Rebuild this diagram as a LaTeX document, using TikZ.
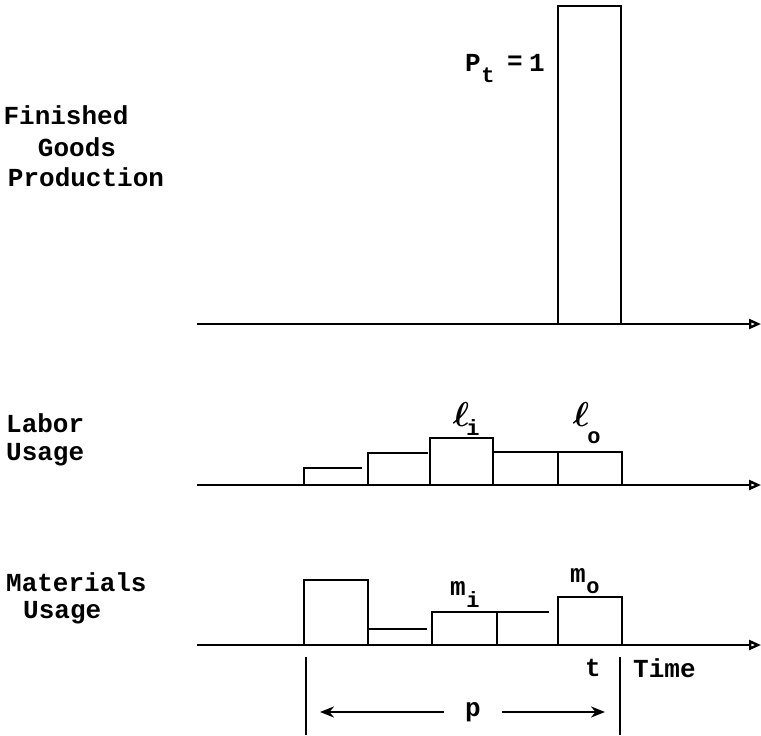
\documentclass[tikz,border=0pt]{standalone}
\usepackage{amsmath}
\usepackage{fontspec}
\setmainfont{Liberation Mono}
\usetikzlibrary{arrows.meta}

\begin{document}
\begin{tikzpicture}[x=0.5pt,y=-0.5pt,inner sep=0pt,line width=1.2pt,
  lbl/.style={font=\fontsize{13}{15}\selectfont\bfseries},
  sub/.style={font=\fontsize{11}{13}\selectfont\bfseries},
  ell/.style={font=\fontsize{16}{18}\selectfont},
  axis/.style={-{Triangle[open,length=6pt,width=5pt]}},
  span/.style={-{Stealth[length=7pt,width=5.5pt]}}]
\useasboundingbox (0,0) rectangle (761,735);

% left labels
\node[lbl] (fin) at (66,115) {Finished};
\node[lbl] (goo) at (77,147) {Goods};
\node[lbl] (pro) at (86,177) {Production};
\node[lbl,anchor=west] (lab) at (5,423) {Labor};
\node[lbl,anchor=west] (lus) at (5,455) {Usage};
\node[lbl,anchor=west] (mat) at (5,582) {Materials};
\node[lbl,anchor=west] (mus) at (22,613) {Usage};

% axes
\coordinate (f0) at (197,324); \coordinate (f1) at (761,324);
\coordinate (l0) at (197,485); \coordinate (l1) at (761,485);
\coordinate (m0) at (197,645); \coordinate (m1) at (761,645);
\draw[axis] (f0) -- (f1);
\draw[axis] (l0) -- (l1);
\draw[axis] (m0) -- (m1);

% finished goods
\draw (558,324) -- (558,6) -- (621,6) -- (621,324);
\node[lbl] (pt) at (473,63) {P};
\node[sub] (ptt) at (488,75) {t};
\node[lbl] (peq) at (515,63) {=};
\node[lbl] (pone) at (537,63) {1};

% labor
\draw (304,485) -- (304,468) -- (362,468);
\draw (368,485) -- (368,453) -- (428,453);
\draw (430,485) -- (430,438) -- (493,438) -- (493,485);
\draw (493,452) -- (558,452) -- (558,485);
\draw (558,452) -- (622,452) -- (622,485);
\node[ell] (li) at (461,414) {$\boldsymbol{\ell}$};
\node[sub] (lii) at (473,428) {i};
\node[ell] (lo) at (581,414) {$\boldsymbol{\ell}$};
\node[sub] (loo) at (594,438) {o};

% materials
\draw (304,645) -- (304,580) -- (368,580) -- (368,645);
\draw (368,629) -- (427,629);
\draw (432,645) -- (432,612) -- (497,612) -- (497,645);
\draw (497,612) -- (549,612);
\draw (558,645) -- (558,597) -- (622,597) -- (622,645);
\node[lbl] (mi) at (458,588) {m};
\node[sub] (mii) at (473,600) {i};
\node[lbl] (mo) at (578,575) {m};
\node[sub] (moo) at (593,588) {o};

% period p
\coordinate (p0) at (306,657); \coordinate (p1) at (306,735);
\coordinate (t0) at (620,657); \coordinate (t1) at (620,735);
\draw (p0) -- (p1);
\draw (t0) -- (t1);
\node[lbl] (p) at (473,712) {p};
\coordinate (pl) at (320,712); \coordinate (pr) at (605,712);
\draw[span] (p.west) ++(-20,0) -- (pl);
\draw[span] (p.east) ++(20,0) -- (pr);
\node[lbl] (t) at (593,668) {t};
\node[lbl,anchor=west] (time) at (632,668) {Time};
\end{tikzpicture}
\end{document}
